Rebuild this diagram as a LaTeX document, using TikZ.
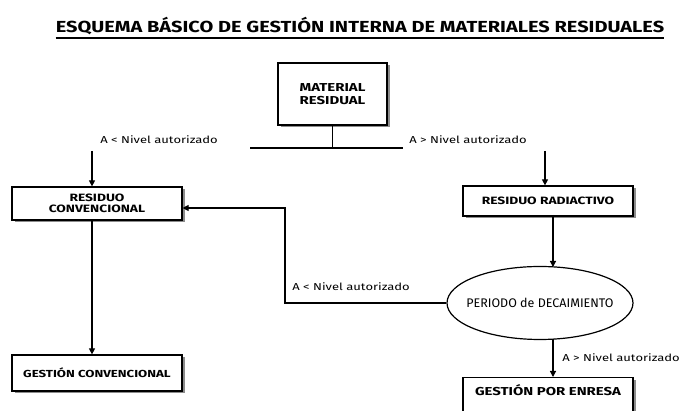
\documentclass[tikz,border=0pt]{standalone}
\usepackage{fontspec}
\setmainfont{Fira Sans}
\newfontfamily\wfont[FakeStretch=1.3]{Fira Sans}
\newfontfamily\tfont[FakeStretch=1.25]{Fira Sans}
\usetikzlibrary{arrows.meta,shapes.geometric,shadows,calc}
\begin{document}
\begin{tikzpicture}[x=1pt,y=-1pt,
  conn/.style={line width=1.2pt,draw=black},
  arr/.style={conn,-{Triangle[length=6pt,width=6pt]}},
  boxstyle/.style={draw=black,line width=1.2pt,fill=white,rectangle,align=center,
     drop shadow={shadow xshift=2.5pt,shadow yshift=-2.5pt,fill=black!45,opacity=1}},
  lbl/.style={font=\wfont\fontsize{10}{11}\selectfont,inner sep=0pt}]
\useasboundingbox (0,0) rectangle (681,411);
\clip (0,0) rectangle (681,411);
% title
\node[font=\tfont\fontsize{16}{17}\selectfont\bfseries,inner sep=0pt] (title) at (360,26)
  {ESQUEMA BÁSICO DE GESTIÓN INTERNA DE MATERIALES RESIDUALES};
\draw[line width=1.4pt] ($(title.south west)+(0,3)$) coordinate (ul1) -- (ul1 -| title.south east);
% boxes
\node[boxstyle,minimum width=109pt,minimum height=62pt,font=\wfont\fontsize{11.5}{13}\selectfont\bfseries] (mat) at (332.5,94) {MATERIAL\\RESIDUAL};
\node[boxstyle,minimum width=170pt,minimum height=33pt,inner sep=1pt,font=\wfont\fontsize{10.6}{11.5}\selectfont\bfseries] (rc) at (97,203.5) {RESIDUO\\CONVENCIONAL};
\node[boxstyle,minimum width=170pt,minimum height=30pt,font=\wfont\fontsize{10.6}{11}\selectfont\bfseries] (rr) at (548,201) {RESIDUO RADIACTIVO};
\node[boxstyle,minimum width=170pt,minimum height=36pt,font=\wfont\fontsize{10.2}{11}\selectfont\bfseries] (gc) at (97,373) {GESTIÓN CONVENCIONAL};
\node[boxstyle,minimum width=170pt,anchor=north,text height=18pt,text depth=30pt,inner ysep=0pt,font=\wfont\fontsize{11.5}{12}\selectfont\bfseries] (ge) at (548,377) {GESTIÓN POR ENRESA};
\node[draw=black,line width=1.2pt,ellipse,minimum width=186pt,minimum height=73pt,inner sep=0pt,
  font=\fontsize{12.5}{14}\selectfont] (el) at (540,303) {\makebox[0pt]{PERIODO de DECAIMIENTO}};
% split line
\coordinate (hl) at (250,148);
\coordinate (hr) at (403,148);
\draw[conn] (mat.south) -- (mat.south |- hl);
\draw[conn] (hl) -- (hr);
% left branch
\coordinate (la) at (92,151);
\draw[arr] (la) -- (la |- rc.north);
\node[lbl] (l1) at (159,140) {A < Nivel autorizado};
% right branch
\coordinate (ra) at (545,151);
\draw[arr] (ra) -- (ra |- rr.north);
\node[lbl] (l2) at (468,140) {A > Nivel autorizado};
% radiactivo to ellipse
\coordinate (r1) at (553,215);
\draw[arr] (r1) -- (553,267);
% ellipse to enresa
\coordinate (e1) at (553,339);
\draw[arr] (e1) -- (e1 |- ge.north);
\node[lbl] (l4) at (621,358) {A > Nivel autorizado};
% ellipse back to convencional
\coordinate (k1) at (285,303);
\draw[arr] (el.west) -- (k1) -- (k1 |- 0,208) -- ($(rc.east)+(0,4.5)$);
\node[lbl] (l3) at (351,287) {A < Nivel autorizado};
% convencional to gestion
\coordinate (c1) at (92,220);
\draw[arr] (c1) -- (c1 |- gc.north);
\end{tikzpicture}
\end{document}
